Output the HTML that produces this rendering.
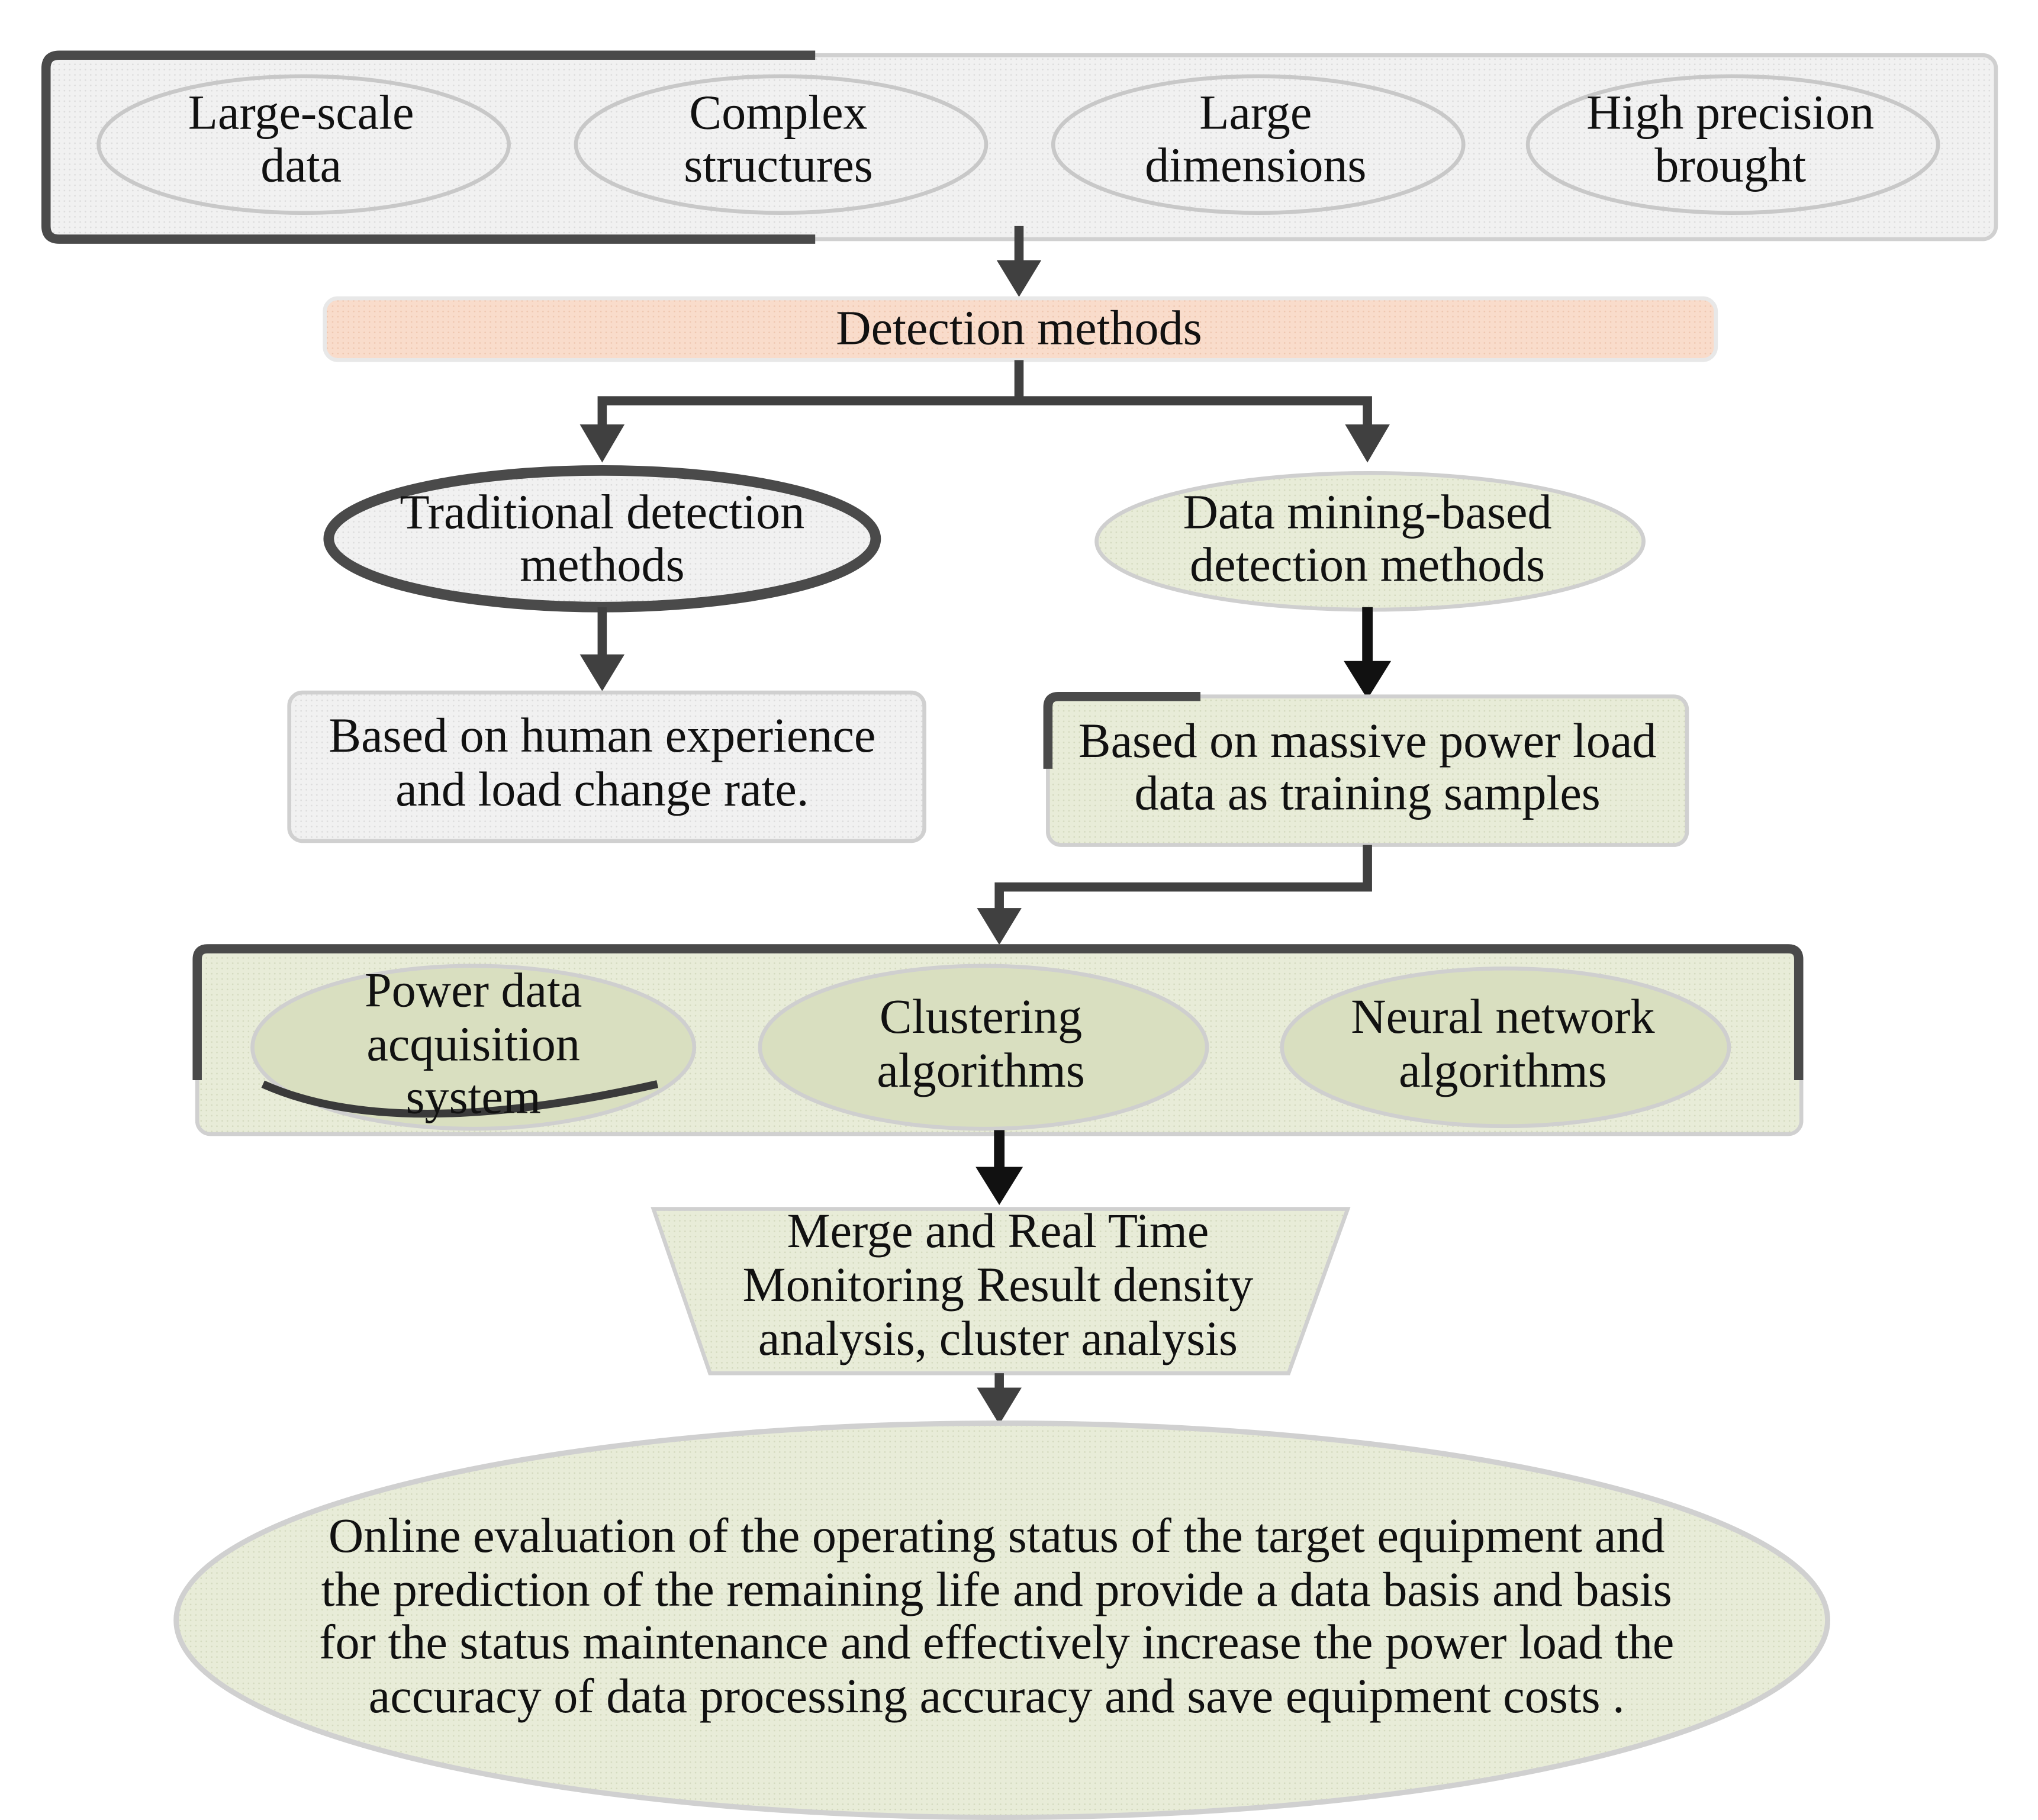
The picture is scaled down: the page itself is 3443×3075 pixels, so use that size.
<!DOCTYPE html>
<html><head><meta charset="utf-8"><style>
html,body{margin:0;padding:0;background:#fff;}
svg{display:block;}
text{font-family:"Liberation Serif",serif;font-size:37px;fill:#111;text-anchor:middle;}
</style></head><body>
<svg width="3443" height="3075" viewBox="0 0 1550 1385" preserveAspectRatio="none" xmlns="http://www.w3.org/2000/svg">
<defs>
<pattern id="dots" width="4" height="4" patternUnits="userSpaceOnUse"><rect width="4" height="4" fill="#f1f1f1"/><circle cx="1" cy="1" r="0.6" fill="#dcdcdc"/></pattern>
<pattern id="gdots" width="4" height="4" patternUnits="userSpaceOnUse"><rect width="4" height="4" fill="#e8ecd8"/><circle cx="1" cy="1" r="0.6" fill="#d4dabf"/></pattern>
<pattern id="pdots" width="4" height="4" patternUnits="userSpaceOnUse"><rect width="4" height="4" fill="#f9dccb"/><circle cx="1" cy="1" r="0.6" fill="#efc7b0"/></pattern>
</defs>

<rect x="35" y="42" width="1483" height="140" rx="10" fill="url(#dots)" stroke="#d0d0d0" stroke-width="3"/>
<path d="M620,42 L45,42 Q35,42 35,52 L35,172 Q35,182 45,182 L620,182" fill="none" stroke="#4a4a4a" stroke-width="7"/>
<g fill="url(#dots)" stroke="#c8c8c8" stroke-width="3">
<ellipse cx="231" cy="110" rx="156" ry="52"/>
<ellipse cx="594" cy="110" rx="156" ry="52"/>
<ellipse cx="957" cy="110" rx="156" ry="52"/>
<ellipse cx="1318" cy="110" rx="156" ry="52"/>
</g>
<text x="229" y="98">Large-scale</text><text x="229" y="138">data</text>
<text x="592" y="98">Complex</text><text x="592" y="138">structures</text>
<text x="955" y="98">Large</text><text x="955" y="138">dimensions</text>
<text x="1316" y="98">High precision</text><text x="1316" y="138">brought</text>

<line x1="775" y1="172" x2="775" y2="200" stroke="#404040" stroke-width="7"/>
<path d="M758,198 L792,198 L775,226 z" fill="#404040"/>

<rect x="247" y="227" width="1058" height="47" rx="10" fill="url(#pdots)" stroke="#e8e8e8" stroke-width="3"/>
<text x="775" y="262">Detection methods</text>

<path d="M775,274 L775,305 L458,305 L458,325 M775,305 L1040,305 L1040,325" fill="none" stroke="#404040" stroke-width="7"/>
<path d="M441,323 L475,323 L458,352 z M1023,323 L1057,323 L1040,352 z" fill="#404040"/>

<ellipse cx="458" cy="410" rx="208" ry="52" fill="url(#dots)" stroke="#4a4a4a" stroke-width="8"/>
<ellipse cx="1042" cy="412" rx="208" ry="52" fill="url(#gdots)" stroke="#cfcfcf" stroke-width="3"/>
<text x="458" y="402">Traditional detection</text><text x="458" y="442">methods</text>
<text x="1040" y="402">Data mining-based</text><text x="1040" y="442">detection methods</text>

<line x1="458" y1="462" x2="458" y2="500" stroke="#404040" stroke-width="7"/>
<path d="M441,498 L475,498 L458,526 z" fill="#404040"/>
<line x1="1040" y1="462" x2="1040" y2="505" stroke="#111" stroke-width="8"/>
<path d="M1022,503 L1058,503 L1040,532 z" fill="#111"/>

<rect x="220" y="527" width="483" height="113" rx="10" fill="url(#dots)" stroke="#d0d0d0" stroke-width="3"/>
<text x="458" y="572">Based on human experience</text><text x="458" y="613">and load change rate.</text>
<rect x="797" y="530" width="486" height="113" rx="10" fill="url(#gdots)" stroke="#d0d0d0" stroke-width="3"/>
<path d="M913,530 L805,530 Q797,530 797,538 L797,585" fill="none" stroke="#4a4a4a" stroke-width="7"/>
<text x="1040" y="576">Based on massive power load</text><text x="1040" y="616">data as training samples</text>

<path d="M1040,643 L1040,675 L760,675 L760,693" fill="none" stroke="#404040" stroke-width="7"/>
<path d="M743,691 L777,691 L760,719 z" fill="#404040"/>

<rect x="150" y="720" width="1220" height="143" rx="10" fill="url(#gdots)" stroke="#d0d0d0" stroke-width="3"/>
<path d="M150,822 L150,730 Q150,722 158,722 L1360,722 Q1368,722 1368,730 L1368,822" fill="none" stroke="#4a4a4a" stroke-width="7"/>
<g fill="#d9dfc0" stroke="#cfcfcf" stroke-width="3">
<ellipse cx="360" cy="797" rx="168" ry="62"/>
<ellipse cx="748" cy="797" rx="170" ry="62"/>
<ellipse cx="1145" cy="797" rx="170" ry="60"/>
</g>
<path d="M200,825 Q300,870 500,825" fill="none" stroke="#3a3a3a" stroke-width="6"/>
<text x="360" y="766">Power data</text><text x="360" y="807">acquisition</text><text x="360" y="847">system</text>
<text x="746" y="786">Clustering</text><text x="746" y="827">algorithms</text>
<text x="1143" y="786">Neural network</text><text x="1143" y="827">algorithms</text>

<line x1="760" y1="860" x2="760" y2="890" stroke="#111" stroke-width="8"/>
<path d="M742,888 L778,888 L760,917 z" fill="#111"/>

<path d="M497,920 L1025,920 L980,1045 L540,1045 z" fill="url(#gdots)" stroke="#d0d0d0" stroke-width="3"/>
<text x="759" y="949">Merge and Real Time</text>
<text x="759" y="990">Monitoring Result density</text>
<text x="759" y="1031">analysis, cluster analysis</text>

<line x1="760" y1="1045" x2="760" y2="1058" stroke="#404040" stroke-width="7"/>
<path d="M743,1056 L777,1056 L760,1084 z" fill="#404040"/>

<ellipse cx="762" cy="1233" rx="628" ry="150" fill="url(#gdots)" stroke="#d0d0d0" stroke-width="4"/>
<text x="758" y="1181">Online evaluation of the operating status of the target equipment and</text>
<text x="758" y="1222">the prediction of the remaining life and provide a data basis and basis</text>
<text x="758" y="1262">for the status maintenance and effectively increase the power load the</text>
<text x="758" y="1303">accuracy of data processing accuracy and save equipment costs .</text>
</svg>
</body></html>
